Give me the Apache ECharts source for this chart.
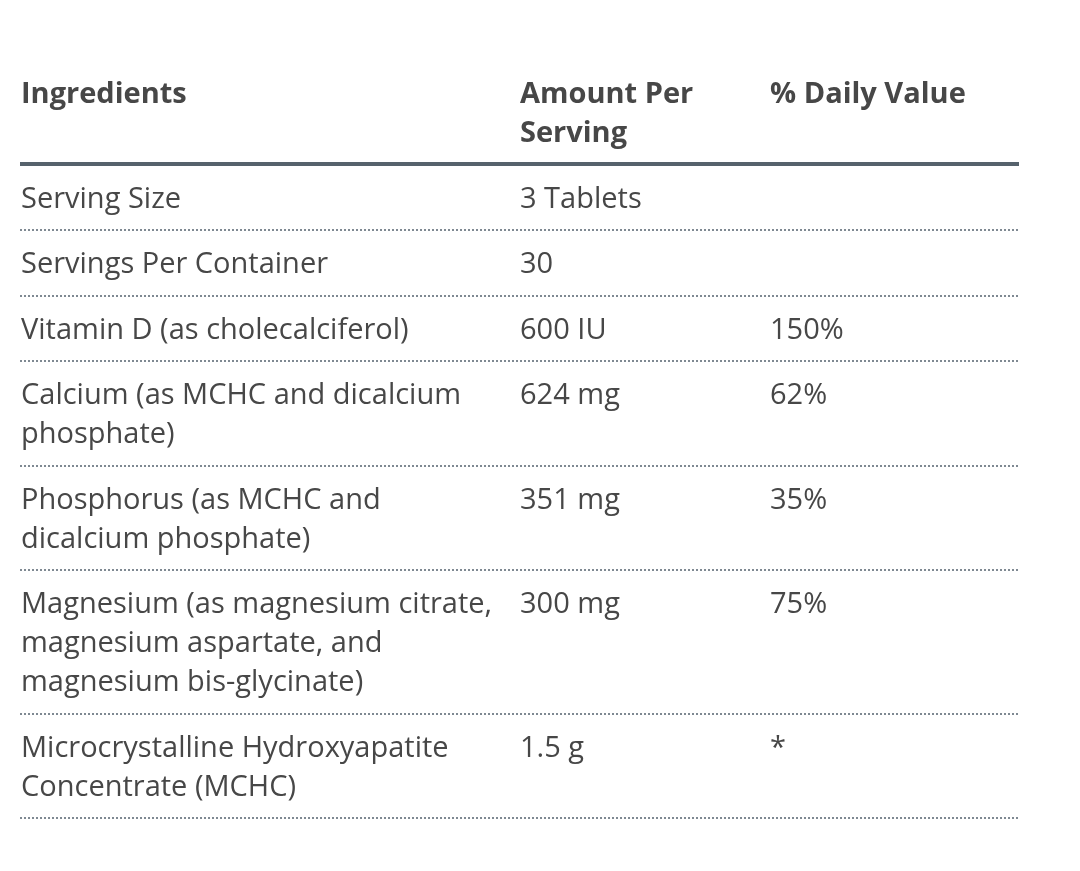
<!DOCTYPE html>
<html>
<head>
<meta charset="utf-8">
<script src="https://cdn.jsdelivr.net/npm/echarts@6/dist/echarts.min.js"></script>
<style>
  html, body { margin: 0; padding: 0; background: #fff; }
  #chart { width: 1080px; height: 871px; }
</style>
</head>
<body>
<div id="chart"></div>
<script>
// table content
const headers = ['Ingredients', 'Amount Per\nServing', '% Daily Value']
const ingredients = [
  'Serving Size',
  'Servings Per Container',
  'Vitamin D (as cholecalciferol)',
  'Calcium (as MCHC and dicalcium\nphosphate)',
  'Phosphorus (as MCHC and\ndicalcium phosphate)',
  'Magnesium (as magnesium citrate,\nmagnesium aspartate, and\nmagnesium bis-glycinate)',
  'Microcrystalline Hydroxyapatite\nConcentrate (MCHC)'
]
const amounts = ['3 Tablets', '30', '600 IU', '624 mg', '351 mg', '300 mg', '1.5 g']
const dailyValues = ['', '', '150%', '62%', '35%', '75%', '*']

const chart = echarts.init(document.getElementById('chart'))

const colX = [21, 520, 770]
const left = 20
const right = 1019
const lineH = 39
const font = 'Open Sans'
const textColor = '#474747'

const elements = []

// header row
headers.forEach((h, i) => {
  elements.push({
    type: 'text',
    x: colX[i],
    y: 75,
    style: {
      text: h,
      fill: textColor,
      font: `bold 29px "${font}"`,
      lineHeight: lineH,
      verticalAlign: 'top'
    }
  })
})

const ruleY = 164
elements.push({
  type: 'line',
  shape: { x1: left, y1: ruleY, x2: right, y2: ruleY },
  style: { stroke: '#56626c', lineWidth: 4 }
})

let y = ruleY + 0.5
ingredients.forEach((name, r) => {
  const lines = name.split('\n').length
  const cells = [name, amounts[r], dailyValues[r]]
  cells.forEach((c, i) => {
    elements.push({
      type: 'text',
      x: colX[i],
      y: y + 15.5,
      style: {
        text: c,
        fill: textColor,
        font: `29px "${font}"`,
        lineHeight: lineH,
        verticalAlign: 'top'
      }
    })
  })
  y += 65.5 + lineH * (lines - 1)
  elements.push({
    type: 'line',
    shape: { x1: left, y1: Math.round(y), x2: right, y2: Math.round(y) },
    style: { stroke: '#7f8992', lineWidth: 2, lineDash: [2, 2] }
  })
})

chart.setOption({
  backgroundColor: '#fff',
  animation: false,
  graphic: elements
})
</script>
</body>
</html>
